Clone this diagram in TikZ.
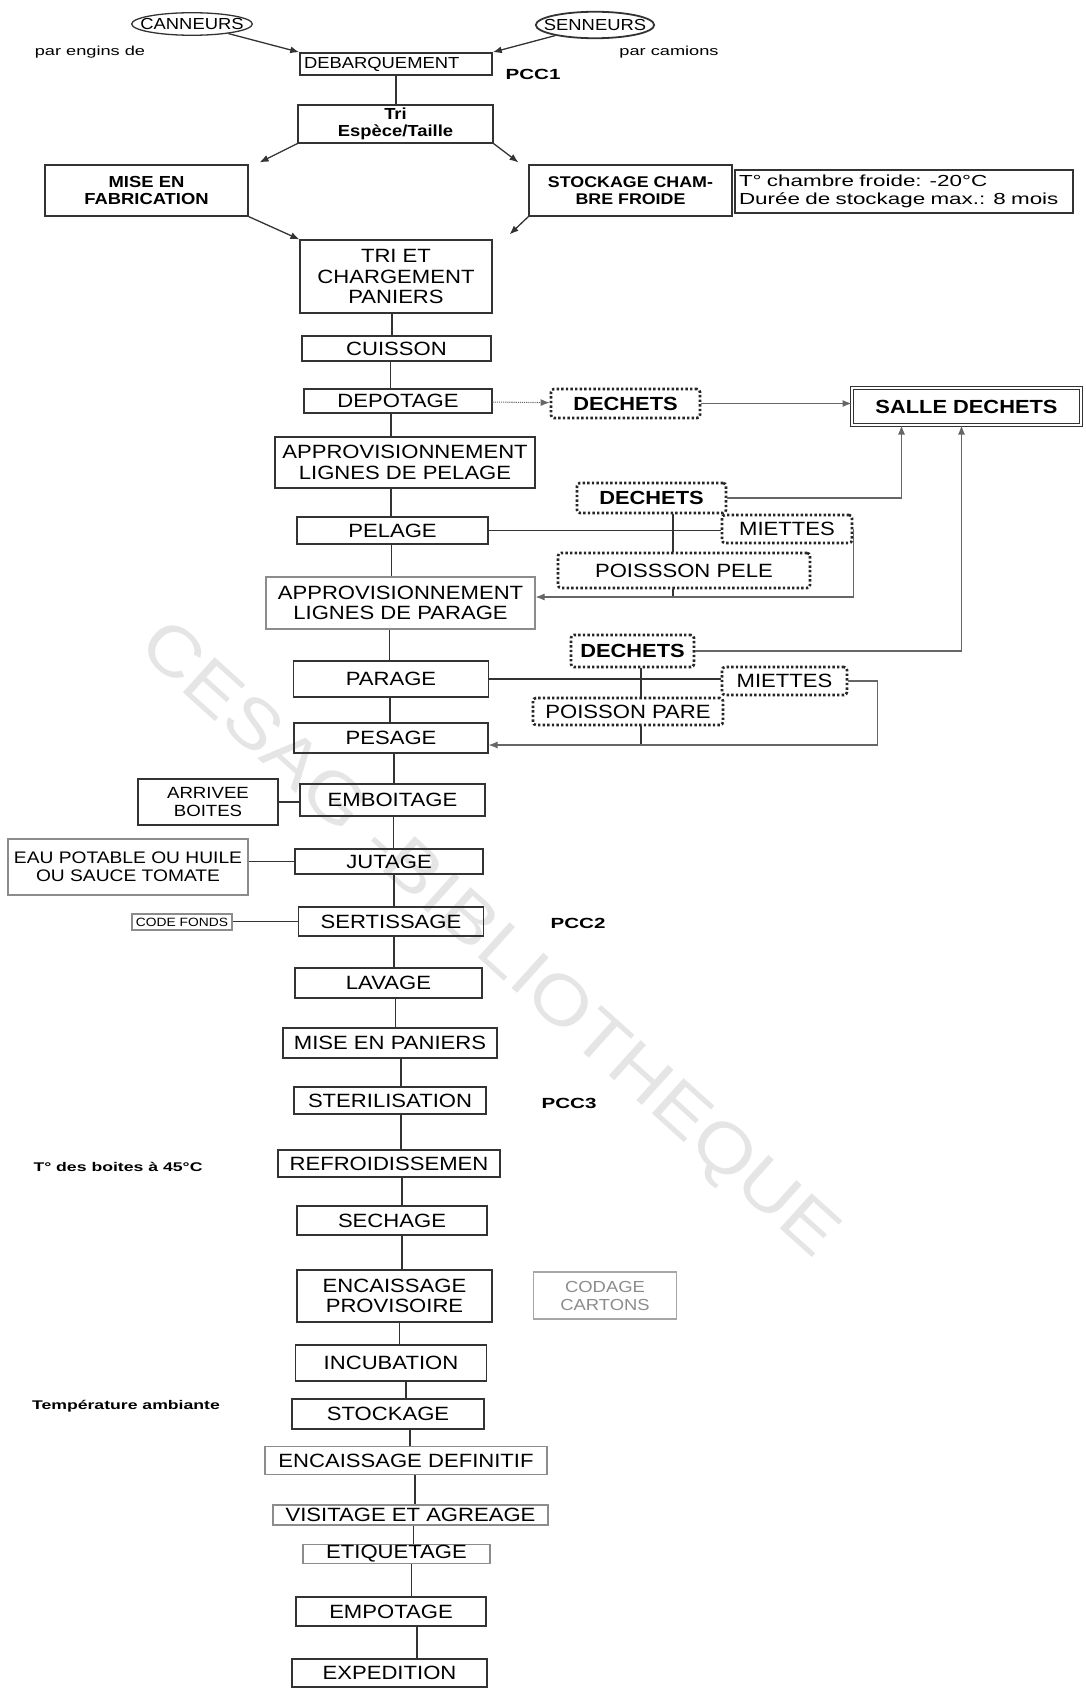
\documentclass[tikz,border=0pt]{standalone}
\usepackage{fontspec}
\setmainfont{Liberation Sans}[FakeStretch=1.15]
\newfontfamily\widefont{Liberation Sans}[FakeStretch=1.4]
\usetikzlibrary{arrows.meta,positioning,calc,shapes.geometric}
\tikzset{etape/.style={draw=black!80, line width=1.1pt, inner sep=1pt, align=center,
  font=\fontsize{19.2}{20.4}\selectfont},
  pale/.style={etape, draw=black!45},
  dechet/.style={etape, draw=black!85, line width=2.6pt, dash pattern=on 2.4pt off 2.2pt, rounded corners=3pt},
  note/.style={font=\widefont\fontsize{13}{15}\selectfont},
  remarque/.style={font=\widefont\bfseries\fontsize{12.6}{14}\selectfont},
  pcc/.style={font=\widefont\bfseries\fontsize{14.7}{16}\selectfont},
  lien/.style={draw=black!80, line width=1.5pt},
  gris/.style={draw=black!60, line width=1.1pt, ->},
  fleche/.style={draw=black!80, line width=1.3pt, ->},
  fil/.style={to path={([xshift=#1]\tikztostart.south) -- ([xshift=#1]\tikztostart.south |- \tikztotarget.north)}},
  fil/.default=0pt,
  >={Latex[length=9pt,width=7pt]}}

\begin{document}
\begin{tikzpicture}[x=1pt, y=-1pt]
        \useasboundingbox (0,0) rectangle (1085,1688);
        \node[rotate=-42, text=black!10, font=\fontsize{69}{69}\selectfont] (filigrane) at (487,942) {CESAG -BIBLIOTHEQUE};

        \node[ellipse, draw=black!80, line width=1.3pt, inner xsep=-9pt, inner ysep=2.3pt, font=\fontsize{16}{16}\selectfont] (canneurs) at (192,24) {CANNEURS};
        \node[ellipse, draw=black!80, line width=1.8pt, inner xsep=-9.3pt, inner ysep=3.7pt, font=\fontsize{16}{16}\selectfont] (senneurs) at (595,25) {SENNEURS};
        \node[note] (engins) at (90,52) {par engins de};
        \node[note] (camions) at (669,52) {par camions};
        \node[etape, line width=1.6pt, text width=184, inner xsep=4pt, align=left, minimum height=22, font=\fontsize{16}{17}\selectfont] (debarq) at (396,64) {DEBARQUEMENT};
        \node[pcc] (pcc1) at (533,74) {PCC1};
        \node[etape, minimum width=195, minimum height=38, font=\bfseries\fontsize{16}{17}\selectfont] (tri) at (395.5,124) {Tri\\Espèce/Taille};
        \node[etape, minimum width=203, minimum height=51, font=\bfseries\fontsize{16}{17}\selectfont] (fabrication) at (146.5,190.5) {MISE EN\\FABRICATION};
        \node[etape, minimum width=203, minimum height=51, font=\bfseries\fontsize{15.5}{17}\selectfont] (chambre) at (630.5,190.5) {STOCKAGE CHAM-\\BRE FROIDE};
        \node[etape, text width=330, inner xsep=4pt, align=left, minimum height=43, font=\widefont\fontsize{16}{18}\selectfont] (froid) at (904,191.5) {T° chambre froide: -20°C\\Durée de stockage max.: 8 mois};
        \node[etape, minimum width=192, minimum height=73] (tri_et) at (396,276.5) {TRI ET\\CHARGEMENT\\PANIERS};
        \node[etape, line width=1.6pt, minimum width=189, minimum height=25] (cuisson) at (396.5,348.5) {CUISSON};
        \node[etape, minimum width=188, minimum height=24] (depotage) at (398,401) {DEPOTAGE};
        \node[dechet, minimum width=149, minimum height=29, font=\bfseries\fontsize{19}{20}\selectfont] (dechets1) at (625.5,403.5) {DECHETS};
        \node[etape, double, double distance=1.6pt, line width=1pt, minimum width=229, minimum height=37, font=\bfseries\fontsize{19}{20}\selectfont] (salle) at (966.5,406.5) {SALLE DECHETS};
        \node[etape, minimum width=260, minimum height=51] (appro_pel) at (405,462.5) {APPROVISIONNEMENT\\LIGNES DE PELAGE};
        \node[dechet, minimum width=149, minimum height=30, font=\bfseries\fontsize{19}{20}\selectfont] (dechets2) at (651.5,498) {DECHETS};
        \node[etape, minimum width=191, minimum height=27] (pelage) at (392.5,530.5) {PELAGE};
        \node[dechet, minimum width=130, minimum height=28] (miettes1) at (787,529) {MIETTES};
        \node[dechet, minimum width=252, minimum height=35] (poisson_pele) at (684,570.5) {POISSSON PELE};
        \node[pale, minimum width=269, minimum height=52] (appro_par) at (400.5,603) {APPROVISIONNEMENT\\LIGNES DE PARAGE};
        \node[dechet, minimum width=123, minimum height=32, font=\bfseries\fontsize{19}{20}\selectfont] (dechets3) at (632.5,651) {DECHETS};
        \node[etape, minimum width=195, minimum height=36] (parage) at (391,679) {PARAGE};
        \node[dechet, minimum width=125, minimum height=28] (miettes2) at (784.5,681) {MIETTES};
        \node[dechet, minimum width=190, minimum height=27] (poisson_pare) at (628,711.5) {POISSON PARE};
        \node[etape, minimum width=194, minimum height=30] (pesage) at (391,738) {PESAGE};
        \node[etape, minimum width=140, minimum height=46, font=\fontsize{16.2}{18}\selectfont] (arrivee) at (208,802) {ARRIVEE\\BOITES};
        \node[etape, minimum width=185, minimum height=32] (emboitage) at (392.5,800) {EMBOITAGE};
        \node[pale, minimum width=240, minimum height=56, font=\fontsize{16.7}{18}\selectfont] (eau) at (128,867) {EAU POTABLE OU HUILE\\OU SAUCE TOMATE};
        \node[etape, minimum width=188, minimum height=25] (jutage) at (389,861.5) {JUTAGE};
        \node[pale, minimum width=100, minimum height=16, font=\fontsize{12}{12}\selectfont] (code) at (182,922) {CODE FONDS};
        \node[etape, minimum width=185, minimum height=29] (sertissage) at (391,921.5) {SERTISSAGE};
        \node[pcc] (pcc2) at (578,923) {PCC2};
        \node[etape, minimum width=187, minimum height=30] (lavage) at (388.5,983) {LAVAGE};
        \node[etape, minimum width=214, minimum height=30] (paniers) at (390,1043) {MISE EN PANIERS};
        \node[etape, minimum width=192, minimum height=27] (sterilisation) at (390,1100.5) {STERILISATION};
        \node[pcc] (pcc3) at (569,1103) {PCC3};
        \node[remarque] (t45) at (118,1167) {T° des boites à 45°C};
        \node[etape, minimum width=222, minimum height=27] (refroid) at (389,1163.5) {REFROIDISSEMEN};
        \node[etape, minimum width=190, minimum height=29] (sechage) at (392,1220.5) {SECHAGE};
        \node[etape, minimum width=195, minimum height=52] (encaissage) at (394.5,1296) {ENCAISSAGE\\PROVISOIRE};
        \node[pale, draw=black!35, text=black!45, minimum width=143, minimum height=47, font=\fontsize{16}{18}\selectfont] (codage) at (605,1295.5) {CODAGE\\CARTONS};
        \node[etape, minimum width=191, minimum height=36] (incubation) at (391,1363) {INCUBATION};
        \node[remarque] (ambiante) at (126,1406) {Température ambiante};
        \node[etape, minimum width=192, minimum height=30] (stockage) at (388,1414) {STOCKAGE};
        \node[pale, minimum width=282, minimum height=28] (definitif) at (406,1460.5) {ENCAISSAGE DEFINITIF};
        \node[pale, minimum width=275, minimum height=20, inner ysep=0pt] (visitage) at (410.5,1515) {VISITAGE ET AGREAGE};
        \node[pale, minimum width=187, minimum height=19, inner ysep=0pt] (etiquetage) at (396.5,1554) {ETIQUETAGE};
        \node[etape, minimum width=190, minimum height=29] (empotage) at (391,1611.5) {EMPOTAGE};
        \node[etape, minimum width=195, minimum height=28] (expedition) at (389.5,1673) {EXPEDITION};
        \coordinate (pele_x) at (673,597);
        \coordinate (pare_x) at (641,745);

        \draw[fleche] (canneurs) -- (debarq.north west);
        \draw[fleche] (senneurs) -- (debarq.north east);
        \draw[fleche] (tri.south west) -- ($(fabrication.north east)+(11,-2)$);
        \draw[fleche] (tri.south east) -- ($(chambre.north west)+(-10,-2)$);
        \draw[fleche] (fabrication.south east) -- (tri_et.north west);
        \draw[fleche] (chambre.south west) -- ($(tri_et.north east)+(17,-5)$);

        \draw[lien] (debarq) edge[fil, line width=2.2pt] (tri)
              (tri_et) edge[fil=-4] (cuisson)
              (cuisson) edge[fil=-6] (depotage)
              (depotage) edge[fil=-7] (appro_pel)
              (appro_pel) edge[fil=-14] (pelage)
              (pelage) edge[fil=-1] (appro_par)
              (appro_par) edge[fil=-11] (parage)
              (parage) edge[fil=-1] (pesage)
              (pesage) edge[fil=3] (emboitage)
              (emboitage) edge[fil=1] (jutage)
              (jutage) edge[fil=5] (sertissage)
              (sertissage) edge[fil=3] (lavage)
              (lavage) edge[fil=7] (paniers)
              (paniers) edge[fil=11] (sterilisation)
              (sterilisation) edge[fil=11] (refroid)
              (refroid) edge[fil=13] (sechage)
              (sechage) edge[fil=10] (encaissage)
              (encaissage) edge[fil=5] (incubation)
              (incubation) edge[fil=15] (stockage)
              (stockage) edge[fil=22] (definitif)
              (definitif) edge[fil=9] (visitage)
              (visitage) edge[fil=3] (etiquetage)
              (etiquetage) edge[fil=15] (empotage)
              (empotage) edge[fil=26] (expedition);

        \draw[gris, densely dotted] (depotage) -- (dechets1);
        \draw[gris] (dechets1) -- (dechets1 -| salle.west);
        \draw[gris] (dechets2) -| ($(salle.south)+(-65,0)$);
        \draw[gris] (dechets3) -| ($(salle.south)+(-5,0)$);

        \draw[lien] (pelage) -- (pelage -| miettes1.west);
        \draw[lien, line width=1.1pt] (dechets2.south -| pele_x) -- (poisson_pele.north -| pele_x)
              (poisson_pele.south -| pele_x) -- (pele_x);
        \draw[gris] (miettes1.east) |- (appro_par.east |- pele_x);
        \draw[lien] (parage) -- (parage -| miettes2.west);
        \draw[lien, line width=1.1pt] (dechets3.south -| pare_x) -- (poisson_pare.north -| pare_x)
              (poisson_pare.south -| pare_x) -- (pare_x);
        \draw[gris] (miettes2.east) -- ++(29,0) |- (pesage.east |- pare_x);

        \draw[lien] (arrivee) -- (arrivee -| emboitage.west);
        \draw[lien] (jutage.west) -- (jutage.west -| eau.east);
        \draw[lien] (sertissage.west) -- (sertissage.west -| code.east);
    \end{tikzpicture}
\end{document}
